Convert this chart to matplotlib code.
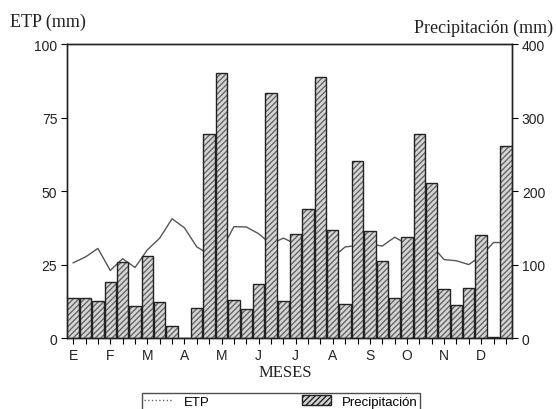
import matplotlib
matplotlib.use("Agg")
import matplotlib.pyplot as plt
import numpy as np
from matplotlib.lines import Line2D
from matplotlib.patches import Patch

months = ["E", "F", "M", "A", "M", "J", "J", "A", "S", "O", "N", "D"]

# Precipitation per decade (mm), 36 values
precip = [54, 55, 50, 76, 104, 44, 112, 49, 16,
          0, 41, 278, 361, 52, 40, 74, 334, 50,
          142, 175, 355, 147, 47, 241, 146, 105, 55,
          137, 278, 211, 67, 45, 68, 140, 2, 262]

# ETP per decade (mm), 36 values
etp = [25.6, 27.6, 30.5, 23.0, 27.0, 24.0, 30.0, 34.0, 40.6,
       37.5, 31.0, 28.5, 30.0, 37.9, 37.8, 35.5, 32.0, 34.0,
       32.0, 32.0, 32.0, 27.5, 31.0, 31.5, 32.0, 31.3, 34.3,
       32.0, 32.0, 31.5, 26.7, 26.3, 25.0, 28.0, 32.5, 32.5]

serif = "Liberation Serif"
sans = "Liberation Sans"

fig = plt.figure(figsize=(5.56, 4.10), dpi=100)
ax = fig.add_axes([0.1205, 0.173, 0.8005, 0.717])
ax2 = ax.twinx()

x = np.arange(len(precip))

ax.set_ylim(0, 100)
ax.set_xlim(-0.5, 35.5)
ax.set_yticks([0, 25, 50, 75, 100])
ax.patch.set_visible(False)

# ETP line (scaled to right axis so bars can overlap it)
ax2.plot(x, np.array(etp) * 4, color="#555555", lw=1.0, zorder=1)
ax2.bar(x, precip, width=0.92, color="#d6d6d6", edgecolor="#666666",
        hatch="//////", linewidth=0, zorder=2)
ax2.bar(x, precip, width=0.92, facecolor="none", edgecolor="#222222",
        linewidth=1.0, zorder=3)
ax2.set_ylim(0, 400)
ax2.set_yticks([0, 100, 200, 300, 400])

ax.set_xticks(x)
ax.set_xticklabels([months[i // 3] if i % 3 == 0 else "" for i in x])
ax.tick_params(axis="x", direction="out", length=4, width=0.8, pad=3,
               labelsize=10)
ax.tick_params(axis="y", direction="out", length=4, width=0.8, pad=3,
               labelsize=10)
ax2.tick_params(axis="y", direction="out", length=4, width=0.8, pad=3,
                labelsize=10)
for lab in ax.get_xticklabels() + ax.get_yticklabels() + ax2.get_yticklabels():
    lab.set_fontfamily(sans)
    lab.set_color("#222222")

for a in (ax, ax2):
    for s in a.spines.values():
        s.set_linewidth(1.0)
        s.set_color("#222222")

fig.text(0.018, 0.945, "ETP (mm)", fontfamily=serif, fontsize=13,
         ha="left", va="center", color="#222222")
fig.text(0.995, 0.93, "Precipitación (mm)", fontfamily=serif, fontsize=13,
         ha="right", va="center", color="#222222")
fig.text(0.513, 0.09, "MESES", fontfamily=serif, fontsize=12,
         ha="center", va="center", color="#222222")

handles = [Line2D([0], [0], color="#666666", lw=1.0, ls=":"),
           Patch(facecolor="#d6d6d6", edgecolor="#222222", hatch="//////")]
leg = fig.legend(handles, ["ETP", "Precipitación"], ncol=2,
                 loc="upper center", bbox_to_anchor=(0.505, 0.056),
                 frameon=True, fancybox=False, edgecolor="#222222",
                 prop={"family": sans, "size": 9.5}, columnspacing=7,
                 handlelength=2.2, borderpad=0.2)
leg.get_frame().set_linewidth(1.0)

fig.savefig("out.png", dpi=100)
